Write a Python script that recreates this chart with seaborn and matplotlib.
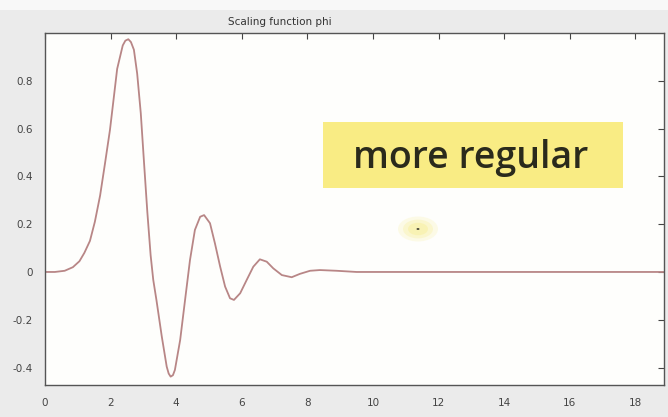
import numpy as np
import pandas as pd
import matplotlib
matplotlib.use("Agg")
import matplotlib.pyplot as plt
from matplotlib.patches import Rectangle, Circle
import seaborn as sns

# Data
t_vals = [0.0, 0.3, 0.6, 0.85, 1.05, 1.2, 1.37, 1.52, 1.68, 1.83, 1.98, 2.08, 2.20, 2.37,
          2.45, 2.54, 2.62, 2.71, 2.81, 2.92, 3.02, 3.12, 3.22, 3.30, 3.40, 3.56, 3.71,
          3.77, 3.83, 3.90, 3.96, 4.12, 4.27, 4.42, 4.57, 4.73, 4.85, 5.03, 5.18, 5.34,
          5.49, 5.64, 5.76, 5.95, 6.15, 6.35, 6.55, 6.76, 6.96, 7.22, 7.52, 7.77, 8.08,
          8.38, 8.89, 9.5, 18.87]
phi_vals = [0.0, 0.0, 0.005, 0.02, 0.045, 0.08, 0.13, 0.21, 0.32, 0.455, 0.594, 0.71, 0.85,
            0.948, 0.968, 0.974, 0.962, 0.93, 0.83, 0.664, 0.455, 0.25, 0.07, -0.033, -0.12,
            -0.27, -0.396, -0.425, -0.438, -0.432, -0.41, -0.285, -0.117, 0.05, 0.176, 0.231,
            0.238, 0.204, 0.12, 0.022, -0.061, -0.11, -0.117, -0.089, -0.033, 0.022, 0.053,
            0.043, 0.015, -0.013, -0.022, -0.008, 0.005, 0.008, 0.005, 0.0, 0.0]
x_ticks = [0, 2, 4, 6, 8, 10, 12, 14, 16, 18]
y_ticks = [-0.4, -0.2, 0, 0.2, 0.4, 0.6, 0.8]
y_ticklabels = ["-0.4", "-0.2", "0", "0.2", "0.4", "0.6", "0.8"]
title_text = "Scaling function phi"
note_text = "more regular"

df = pd.DataFrame({"t": t_vals, "phi": phi_vals})

sns.set_style("white")
plt.rcParams['font.family'] = ['DejaVu Sans']

W, H = 668, 417
fig = plt.figure(figsize=(W / 100, H / 100), dpi=100)
fig.patch.set_facecolor("#ebebeb")
fig.patches.append(Rectangle((0, 1 - 10 / H), 1, 10 / H, transform=fig.transFigure,
                             facecolor="#f8f8f8", edgecolor="none", zorder=0))
ax = fig.add_axes([45 / W, 1 - 385 / H, (664 - 45) / W, (385 - 33) / H])
ax.set_facecolor("#fefefc")

sns.lineplot(data=df, x="t", y="phi", estimator=None, sort=False, ax=ax,
             color="#b88686", linewidth=1.3)

ax.set_xlim(0, 18.87)
ax.set_ylim(-0.473, 1.0)
ax.set_xticks(x_ticks)
ax.set_xticklabels([str(v) for v in x_ticks])
ax.set_yticks(y_ticks)
ax.set_yticklabels(y_ticklabels)
ax.set_xlabel("")
ax.set_ylabel("")
ax.tick_params(direction="in", length=4, width=0.8, top=True, right=True,
               labelsize=7.5, labelcolor="#444444", color="#444444")
ax.tick_params(axis="x", pad=9)
ax.tick_params(axis="y", pad=9)
for s in ax.spines.values():
    s.set_color("#555555")
    s.set_linewidth(1.0)

fig.text(280 / W, 1 - 22 / H, title_text, ha="center", va="center",
         fontsize=7.5, color="#333333")

# highlight box
fig.patches.append(Rectangle((323 / W, 1 - 188 / H), (623 - 323) / W, (188 - 122) / H,
                             transform=fig.transFigure, facecolor="#f9ec84",
                             edgecolor="none", zorder=5))
fig.text(471 / W, 1 - 158 / H, note_text, ha="center", va="center",
         fontsize=27, fontweight="semibold", color="#2a2a1c", family="Open Sans", zorder=6)

# cursor glow
for r, a in [(20, 0.15), (15, 0.2), (10, 0.25)]:
    fig.patches.append(Circle((418 / W, 1 - 229 / H), r / W, transform=fig.transFigure,
                              facecolor="#f6e86a", edgecolor="none", alpha=a, zorder=5))
fig.patches.append(Circle((418 / W, 1 - 229 / H), 1.5 / W, transform=fig.transFigure,
                          facecolor="#444433", edgecolor="none", zorder=6))

fig.savefig("out.png", dpi=100, facecolor=fig.get_facecolor())
